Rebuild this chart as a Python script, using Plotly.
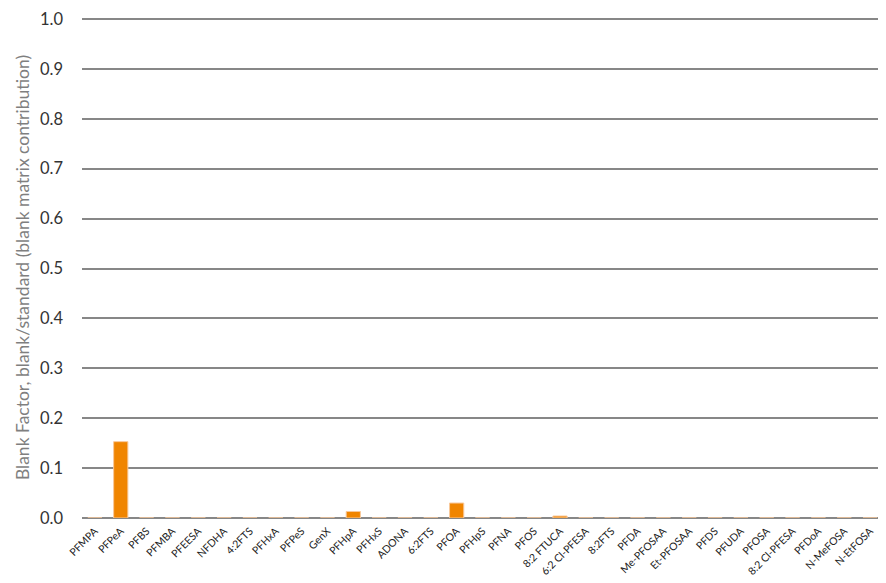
import plotly.graph_objects as go

categories = ["PFMPA", "PFPeA", "PFBS", "PFMBA", "PFEESA", "NFDHA", "4:2FTS", "PFHxA", "PFPeS", "GenX",
              "PFHpA", "PFHxS", "ADONA", "6:2FTS", "PFOA", "PFHpS", "PFNA", "PFOS", "8:2 FTUCA", "6:2 Cl-PFESA",
              "8:2FTS", "PFDA", "Me-PFOSAA", "Et-PFOSAA", "PFDS", "PFUDA", "PFOSA", "8:2 Cl-PFESA", "PFDoA",
              "N-MeFOSA", "N-EtFOSA"]
blank_factor = [0, 0.153, 0, 0, 0, 0, 0, 0, 0, 0,
                0.013, 0, 0, 0, 0.030, 0, 0, 0, 0.004, 0,
                0, 0, 0, 0, 0, 0, 0, 0, 0,
                0, 0]
y_ticks = [0.0, 0.1, 0.2, 0.3, 0.4, 0.5, 0.6, 0.7, 0.8, 0.9, 1.0]

fig = go.Figure(go.Bar(
    x=categories, y=blank_factor,
    marker=dict(color="#F08500", line=dict(color="#F8C89A", width=1)),
))

# page body has an 8px margin, so offsets are compensated
fig.update_layout(
    width=875, height=573,
    margin=dict(l=74, r=0, t=9, b=63),
    plot_bgcolor="white", paper_bgcolor="white",
    bargap=0.45,
    showlegend=False,
    font=dict(family="Lato", color="#404040"),
)
fig.update_xaxes(
    tickangle=-45, tickfont=dict(size=10.5, color="#222222"),
    showgrid=False, showline=False, ticks="", automargin=False,
    ticklabelstandoff=4,
)
fig.update_yaxes(
    range=[0, 1.004], tickvals=y_ticks, tickformat=".1f",
    tickfont=dict(size=16.5, color="#333333"),
    gridcolor="#878787", gridwidth=1.5,
    zeroline=True, zerolinecolor="#878787", zerolinewidth=1.5,
    title=dict(text="Blank Factor, blank/standard (blank matrix contribution)",
               font=dict(size=17.5, color="#7f7f7f"), standoff=5),
    ticklabelstandoff=18, automargin=False,
)

fig.write_html("out.html")
